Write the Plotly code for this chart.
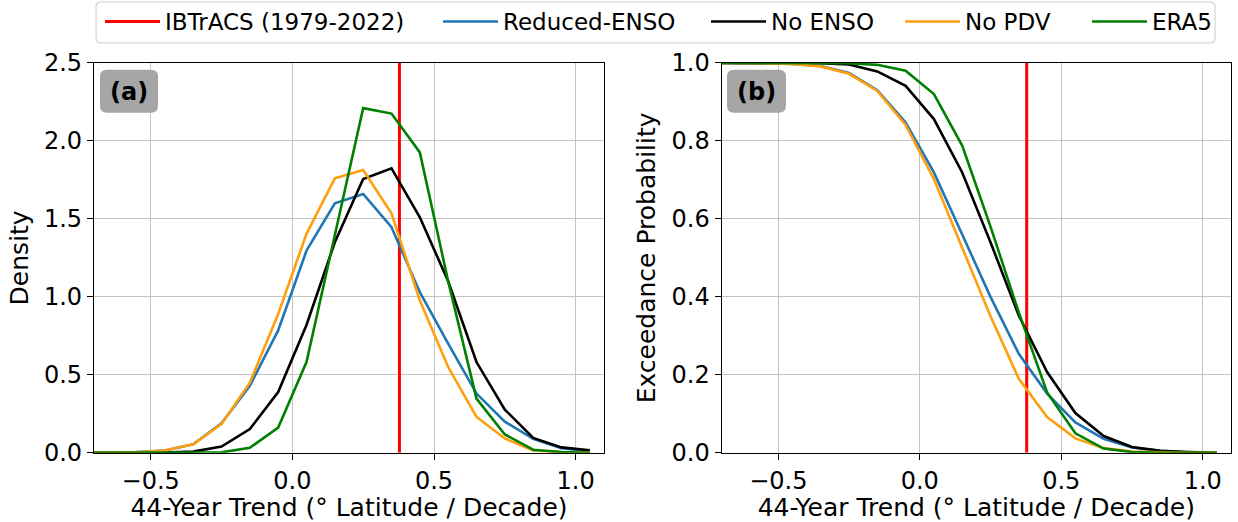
import plotly.graph_objects as go

# ---------------- data ----------------
trend = [-0.75, -0.65, -0.55, -0.45, -0.35, -0.25, -0.15, -0.05, 0.05, 0.15,
         0.25, 0.35, 0.45, 0.55, 0.65, 0.75, 0.85, 0.95, 1.05]

dens_reduced = [0.0, 0.001, 0.005, 0.015, 0.055, 0.19, 0.43, 0.785, 1.296, 1.60,
                1.66, 1.446, 1.03, 0.70, 0.38, 0.20, 0.09, 0.03, 0.01]
dens_noenso = [0.0, 0.0, 0.001, 0.002, 0.008, 0.04, 0.152, 0.39, 0.82, 1.35,
               1.756, 1.824, 1.51, 1.10, 0.582, 0.277, 0.096, 0.035, 0.017]
dens_nopdv = [0.0, 0.001, 0.004, 0.015, 0.055, 0.185, 0.45, 0.89, 1.404, 1.76,
              1.813, 1.535, 0.977, 0.55, 0.23, 0.092, 0.015, 0.005, 0.0]
dens_era5 = [0.0, 0.0, 0.0, 0.0, 0.001, 0.003, 0.032, 0.162, 0.582, 1.40,
             2.21, 2.175, 1.926, 1.10, 0.348, 0.118, 0.02, 0.005, 0.0]

exc_reduced = [1.0, 1.0, 0.999, 0.997, 0.992, 0.974, 0.93, 0.847, 0.719, 0.56,
               0.40, 0.254, 0.152, 0.078, 0.036, 0.014, 0.005, 0.001, 0.0]
exc_noenso = [1.0, 1.0, 1.0, 1.0, 0.999, 0.996, 0.978, 0.941, 0.856, 0.719,
              0.54, 0.352, 0.207, 0.102, 0.043, 0.015, 0.005, 0.002, 0.0]
exc_nopdv = [1.0, 1.0, 0.999, 0.997, 0.991, 0.972, 0.928, 0.841, 0.702, 0.526,
             0.35, 0.19, 0.092, 0.037, 0.012, 0.003, 0.001, 0.0, 0.0]
exc_era5 = [1.0, 1.0, 1.0, 1.0, 1.0, 0.999, 0.995, 0.98, 0.92, 0.788,
            0.58, 0.36, 0.155, 0.05, 0.011, 0.002, 0.0, 0.0, 0.0]

ibtracs_trend = 0.378

series_names = ["IBTrACS (1979-2022)", "Reduced-ENSO", "No ENSO", "No PDV", "ERA5"]
series_colors = ["#ff0000", "#1f77b4", "#000000", "#ff9f0e", "#008000"]
density_series = [dens_reduced, dens_noenso, dens_nopdv, dens_era5]
exceed_series = [exc_reduced, exc_noenso, exc_nopdv, exc_era5]

x_ticks = [-0.5, 0.0, 0.5, 1.0]
x_title = "44-Year Trend (° Latitude / Decade)"

# ---------------- figure ----------------
W, H = 1238, 522
FONT = "DejaVu Sans"


def px_x(p):
    return p / W


def px_y(p):
    return 1 - p / H


fig = go.Figure()
legend_ids = ["legend", "legend2", "legend3", "legend4", "legend5"]

# red IBTrACS lines
fig.add_trace(go.Scatter(x=[ibtracs_trend, ibtracs_trend], y=[0, 2.5], mode="lines",
                         line=dict(color=series_colors[0], width=3),
                         name=series_names[0], legend=legend_ids[0],
                         xaxis="x", yaxis="y"))
fig.add_trace(go.Scatter(x=[ibtracs_trend, ibtracs_trend], y=[0, 1.0], mode="lines",
                         line=dict(color=series_colors[0], width=3),
                         name=series_names[0], showlegend=False,
                         xaxis="x2", yaxis="y2"))

for i, (dens, exc) in enumerate(zip(density_series, exceed_series)):
    fig.add_trace(go.Scatter(x=trend, y=dens, mode="lines",
                             line=dict(color=series_colors[i + 1], width=2.6),
                             name=series_names[i + 1], legend=legend_ids[i + 1],
                             xaxis="x", yaxis="y"))
    fig.add_trace(go.Scatter(x=trend, y=exc, mode="lines",
                             line=dict(color=series_colors[i + 1], width=2.6),
                             name=series_names[i + 1], showlegend=False,
                             xaxis="x2", yaxis="y2"))

axis_common = dict(showline=True, mirror=True, linecolor="black", linewidth=1.3,
                   ticks="outside", ticklen=6, tickwidth=1.3, tickcolor="black",
                   showgrid=True, gridcolor="#c4c4c4", gridwidth=1,
                   zeroline=False, automargin=False,
                   tickfont=dict(family=FONT, size=24, color="black"))

ydom = [(H - 452.7) / H, (H - 62) / H]

fig.update_layout(
    width=W, height=H,
    margin=dict(l=0, r=0, t=0, b=0),
    paper_bgcolor="white", plot_bgcolor="white",
    font=dict(family=FONT, size=24, color="black"),
    xaxis=dict(domain=[px_x(94), px_x(604)], range=[-0.7, 1.1], tickvals=x_ticks,
               tickformat=".1f", anchor="y",
               title=dict(text=x_title, font=dict(size=25), standoff=5),
               **axis_common),
    yaxis=dict(domain=ydom, range=[0, 2.5], dtick=0.5, tickformat=".1f", anchor="x",
               title=dict(text="Density", font=dict(size=25), standoff=8),
               **axis_common),
    xaxis2=dict(domain=[px_x(721.7), px_x(1231)], range=[-0.7, 1.1], tickvals=x_ticks,
                tickformat=".1f", anchor="y2",
                title=dict(text=x_title, font=dict(size=25), standoff=5),
                **axis_common),
    yaxis2=dict(domain=ydom, range=[0, 1.0], dtick=0.2, tickformat=".1f", anchor="x2",
                title=dict(text="Exceedance Probability", font=dict(size=25), standoff=8),
                **axis_common),
)

# legends: one per entry, placed side by side inside a common frame
legend_text_starts = [167, 505, 773, 967, 1154]
for lid, xs in zip(legend_ids, legend_text_starts):
    fig.layout[lid] = dict(x=px_x(xs - 67), y=px_y(21), xanchor="left", yanchor="middle",
                           orientation="h", bgcolor="rgba(0,0,0,0)", borderwidth=0,
                           itemwidth=55, font=dict(family=FONT, size=23, color="black"))


def rounded_rect(x0, y0, x1, y1, r):
    pts = [
        f"M {px_x(x0 + r)},{px_y(y0)}",
        f"L {px_x(x1 - r)},{px_y(y0)}",
        f"Q {px_x(x1)},{px_y(y0)} {px_x(x1)},{px_y(y0 + r)}",
        f"L {px_x(x1)},{px_y(y1 - r)}",
        f"Q {px_x(x1)},{px_y(y1)} {px_x(x1 - r)},{px_y(y1)}",
        f"L {px_x(x0 + r)},{px_y(y1)}",
        f"Q {px_x(x0)},{px_y(y1)} {px_x(x0)},{px_y(y1 - r)}",
        f"L {px_x(x0)},{px_y(y0 + r)}",
        f"Q {px_x(x0)},{px_y(y0)} {px_x(x0 + r)},{px_y(y0)}",
        "Z",
    ]
    return " ".join(pts)


shapes = [
    dict(type="path", xref="paper", yref="paper", path=rounded_rect(96, 1, 1215, 42, 4),
         line=dict(color="#cccccc", width=1), fillcolor="rgba(255,255,255,0.8)", layer="below"),
    dict(type="path", xref="paper", yref="paper", path=rounded_rect(100, 69, 158, 112, 7),
         line=dict(width=0), fillcolor="#a6a6a6", layer="above"),
    dict(type="path", xref="paper", yref="paper", path=rounded_rect(727, 69, 786, 112, 7),
         line=dict(width=0), fillcolor="#a6a6a6", layer="above"),
]
fig.update_layout(shapes=shapes)

fig.add_annotation(x=px_x(129), y=px_y(91), xref="paper", yref="paper", text="<b>(a)</b>",
                   showarrow=False, font=dict(family=FONT, size=24, color="black"),
                   xanchor="center", yanchor="middle")
fig.add_annotation(x=px_x(756.5), y=px_y(91), xref="paper", yref="paper", text="<b>(b)</b>",
                   showarrow=False, font=dict(family=FONT, size=24, color="black"),
                   xanchor="center", yanchor="middle")

fig.write_html("out.html")
